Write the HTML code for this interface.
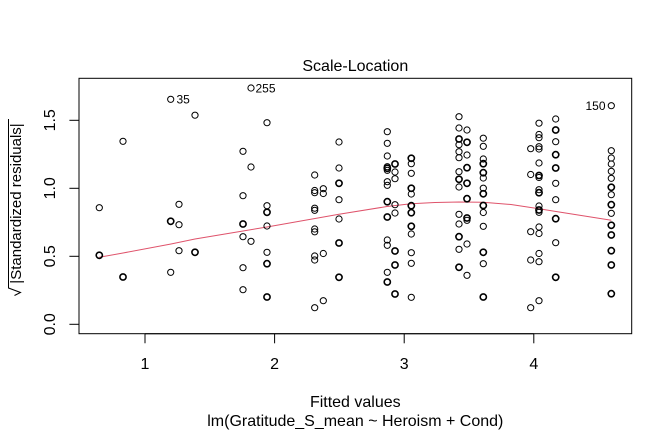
<!DOCTYPE html>
<html>
<head>
<meta charset="utf-8">
<style>
html,body{margin:0;padding:0;background:#fff;}
svg{display:block;}
text{font-family:"Liberation Sans",Arial,sans-serif;fill:#000;}
.p circle{fill:none;stroke:#000;stroke-width:1;}
.p circle.b{stroke-width:1.6;}
</style>
</head>
<body>
<svg width="672" height="432" viewBox="0 0 672 432" xmlns="http://www.w3.org/2000/svg">
<rect x="0" y="0" width="672" height="432" fill="#fff"/>
<rect x="79" y="78.3" width="552.7" height="255.4" fill="none" stroke="#000" stroke-width="1"/>
<g stroke="#000" stroke-width="1">
<line x1="145" y1="333.7" x2="145" y2="343.3"/>
<line x1="274.6" y1="333.7" x2="274.6" y2="343.3"/>
<line x1="404.2" y1="333.7" x2="404.2" y2="343.3"/>
<line x1="533.8" y1="333.7" x2="533.8" y2="343.3"/>
<line x1="145" y1="333.7" x2="533.8" y2="333.7"/>
<line x1="79" y1="324.3" x2="69.4" y2="324.3"/>
<line x1="79" y1="256.3" x2="69.4" y2="256.3"/>
<line x1="79" y1="188.3" x2="69.4" y2="188.3"/>
<line x1="79" y1="120.3" x2="69.4" y2="120.3"/>
<line x1="79" y1="120.3" x2="79" y2="324.3"/>
</g>
<g font-size="16" text-anchor="middle">
<text x="145" y="369">1</text>
<text x="274.6" y="369">2</text>
<text x="404.2" y="369">3</text>
<text x="533.8" y="369">4</text>
</g>
<g font-size="16" text-anchor="middle">
<text transform="translate(55,324.3) rotate(-90)">0.0</text>
<text transform="translate(55,256.3) rotate(-90)">0.5</text>
<text transform="translate(55,188.3) rotate(-90)">1.0</text>
<text transform="translate(55,120.3) rotate(-90)">1.5</text>
</g>
<text x="355.3" y="71" font-size="16" text-anchor="middle">Scale-Location</text>
<text x="355.3" y="407" font-size="16" text-anchor="middle">Fitted values</text>
<text x="355.3" y="426" font-size="16" text-anchor="middle">lm(Gratitude_S_mean ~ Heroism + Cond)</text>
<text transform="translate(21,203.5) rotate(-90)" font-size="15" text-anchor="middle">|Standardized residuals|</text>
<path d="M14.5,295.5 L20.5,292.5 L8.5,288 L8.5,119" fill="none" stroke="#000" stroke-width="1"/>
<polyline fill="none" stroke="#DF536B" stroke-width="1" points="99.3,257.3 123,253 171,244 195,239 243,231 267,227 315,218.5 339,214.3 387,206.5 411,203.7 435,202.5 459,202 483,202.3 511,204.5 539,208.7 556,211.5 611.3,220.3"/>
<g class="p">
<circle cx="99.3" cy="207.7" r="3.1"/>
<circle cx="99.3" cy="255.3" r="3.1" class="b"/>
<circle cx="123" cy="141.3" r="3.1"/>
<circle cx="123" cy="277" r="3.1" class="b"/>
<circle cx="170.7" cy="99.3" r="3.1"/>
<circle cx="170.7" cy="221.3" r="3.1" class="b"/>
<circle cx="170.7" cy="272.3" r="3.1"/>
<circle cx="179" cy="204.3" r="3.1"/>
<circle cx="179" cy="224.7" r="3.1"/>
<circle cx="179" cy="250.7" r="3.1"/>
<circle cx="195" cy="115.2" r="3.1"/>
<circle cx="195" cy="252.3" r="3.1" class="b"/>

<circle cx="243" cy="151.3" r="3.1"/>
<circle cx="243" cy="195.7" r="3.1"/>
<circle cx="243" cy="224" r="3.1" class="b"/>
<circle cx="243" cy="236.7" r="3.1"/>
<circle cx="243" cy="267.7" r="3.1"/>
<circle cx="243" cy="289.7" r="3.1"/>
<circle cx="251" cy="88" r="3.1"/>
<circle cx="251" cy="167" r="3.1"/>
<circle cx="251" cy="241.3" r="3.1"/>
<circle cx="267" cy="122.7" r="3.1"/>
<circle cx="267" cy="205.7" r="3.1"/>
<circle cx="267" cy="212.3" r="3.1" class="b"/>
<circle cx="267" cy="226" r="3.1"/>
<circle cx="267" cy="252.3" r="3.1"/>
<circle cx="267" cy="263.7" r="3.1" class="b"/>
<circle cx="267" cy="297" r="3.1" class="b"/>

<circle cx="314.7" cy="175" r="3.1"/>
<circle cx="314.7" cy="190.5" r="3.1"/>
<circle cx="314.7" cy="192.7" r="3.1"/>
<circle cx="314.7" cy="208.2" r="3.1"/>
<circle cx="314.7" cy="210.3" r="3.1"/>
<circle cx="314.7" cy="229" r="3.1"/>
<circle cx="314.7" cy="231.8" r="3.1"/>
<circle cx="314.7" cy="256" r="3.1"/>
<circle cx="314.7" cy="260" r="3.1"/>
<circle cx="314.7" cy="307.7" r="3.1"/>
<circle cx="323.3" cy="188.7" r="3.1"/>
<circle cx="323.3" cy="193.5" r="3.1"/>
<circle cx="323.3" cy="253.5" r="3.1"/>
<circle cx="323.3" cy="300.7" r="3.1"/>
<circle cx="339" cy="142" r="3.1"/>
<circle cx="339" cy="168" r="3.1"/>
<circle cx="339" cy="183.3" r="3.1" class="b"/>
<circle cx="339" cy="199.7" r="3.1"/>
<circle cx="339" cy="219" r="3.1"/>
<circle cx="339" cy="243" r="3.1" class="b"/>
<circle cx="339" cy="277.3" r="3.1" class="b"/>

<circle cx="387.3" cy="131.7" r="3.1"/>
<circle cx="387.3" cy="143.3" r="3.1"/>
<circle cx="387.3" cy="156" r="3.1"/>
<circle cx="387.3" cy="166.7" r="3.1"/>
<circle cx="387.3" cy="168.3" r="3.1" class="b"/>
<circle cx="387.3" cy="170.3" r="3.1"/>
<circle cx="387.3" cy="181.7" r="3.1"/>
<circle cx="387.3" cy="185.3" r="3.1"/>
<circle cx="387.3" cy="201.7" r="3.1" class="b"/>
<circle cx="387.3" cy="217" r="3.1" class="b"/>
<circle cx="387.3" cy="240" r="3.1"/>
<circle cx="387.3" cy="245.3" r="3.1"/>
<circle cx="387.3" cy="272.3" r="3.1"/>
<circle cx="387.3" cy="282" r="3.1" class="b"/>
<circle cx="395" cy="164" r="3.1" class="b"/>
<circle cx="395" cy="172" r="3.1"/>
<circle cx="395" cy="178.7" r="3.1"/>
<circle cx="395" cy="204.7" r="3.1"/>
<circle cx="395" cy="213" r="3.1"/>
<circle cx="395" cy="251" r="3.1" class="b"/>
<circle cx="395" cy="265" r="3.1" class="b"/>
<circle cx="395" cy="294" r="3.1" class="b"/>
<circle cx="411.3" cy="158.3" r="3.1" class="b"/>
<circle cx="411.3" cy="163.7" r="3.1"/>
<circle cx="411.3" cy="173.3" r="3.1"/>
<circle cx="411.3" cy="188.3" r="3.1" class="b"/>
<circle cx="411.3" cy="194" r="3.1"/>
<circle cx="411.3" cy="205.7" r="3.1" class="b"/>
<circle cx="411.3" cy="212.7" r="3.1" class="b"/>
<circle cx="411.3" cy="226.3" r="3.1" class="b"/>
<circle cx="411.3" cy="234" r="3.1"/>
<circle cx="411.3" cy="252.7" r="3.1"/>
<circle cx="411.3" cy="263.3" r="3.1"/>
<circle cx="411.3" cy="297.3" r="3.1"/>

<circle cx="459" cy="116.7" r="3.1"/>
<circle cx="459" cy="128" r="3.1"/>
<circle cx="459" cy="139" r="3.1" class="b"/>
<circle cx="459" cy="144.7" r="3.1"/>
<circle cx="459" cy="151.7" r="3.1"/>
<circle cx="459" cy="157.7" r="3.1"/>
<circle cx="459" cy="171.7" r="3.1"/>
<circle cx="459" cy="179.3" r="3.1" class="b"/>
<circle cx="459" cy="187" r="3.1"/>
<circle cx="459" cy="214.3" r="3.1"/>
<circle cx="459" cy="224" r="3.1"/>
<circle cx="459" cy="236.7" r="3.1" class="b"/>
<circle cx="459" cy="249.3" r="3.1"/>
<circle cx="459" cy="267.3" r="3.1" class="b"/>
<circle cx="467" cy="130" r="3.1"/>
<circle cx="467" cy="142.3" r="3.1" class="b"/>
<circle cx="467" cy="155" r="3.1"/>
<circle cx="467" cy="167.7" r="3.1" class="b"/>
<circle cx="467" cy="183.3" r="3.1" class="b"/>
<circle cx="467" cy="198.7" r="3.1" class="b"/>
<circle cx="467" cy="218" r="3.1" class="b"/>
<circle cx="467" cy="220.3" r="3.1"/>
<circle cx="467" cy="244" r="3.1"/>
<circle cx="467" cy="275.3" r="3.1"/>
<circle cx="483.3" cy="138.2" r="3.1"/>
<circle cx="483.3" cy="146.3" r="3.1"/>
<circle cx="483.3" cy="159" r="3.1"/>
<circle cx="483.3" cy="163.7" r="3.1" class="b"/>
<circle cx="483.3" cy="172.7" r="3.1" class="b"/>
<circle cx="483.3" cy="178" r="3.1"/>
<circle cx="483.3" cy="188.2" r="3.1"/>
<circle cx="483.3" cy="193.8" r="3.1" class="b"/>
<circle cx="483.3" cy="205.5" r="3.1" class="b"/>
<circle cx="483.3" cy="212.5" r="3.1"/>
<circle cx="483.3" cy="226.3" r="3.1"/>
<circle cx="483.3" cy="252.3" r="3.1" class="b"/>
<circle cx="483.3" cy="263.7" r="3.1"/>
<circle cx="483.3" cy="297" r="3.1" class="b"/>

<circle cx="530.7" cy="148.7" r="3.1"/>
<circle cx="530.7" cy="174.5" r="3.1"/>
<circle cx="530.7" cy="231.7" r="3.1"/>
<circle cx="530.7" cy="260" r="3.1"/>
<circle cx="530.7" cy="307.7" r="3.1"/>
<circle cx="539" cy="123.2" r="3.1"/>
<circle cx="539" cy="134.5" r="3.1"/>
<circle cx="539" cy="137.7" r="3.1"/>
<circle cx="539" cy="146.7" r="3.1"/>
<circle cx="539" cy="149" r="3.1"/>
<circle cx="539" cy="163" r="3.1"/>
<circle cx="539" cy="175.5" r="3.1" class="b"/>
<circle cx="539" cy="177.5" r="3.1"/>
<circle cx="539" cy="189.7" r="3.1"/>
<circle cx="539" cy="192.7" r="3.1" class="b"/>
<circle cx="539" cy="206" r="3.1"/>
<circle cx="539" cy="210" r="3.1" class="b"/>
<circle cx="539" cy="212.3" r="3.1"/>
<circle cx="539" cy="227" r="3.1"/>
<circle cx="539" cy="233.5" r="3.1"/>
<circle cx="539" cy="253.5" r="3.1"/>
<circle cx="539" cy="261.7" r="3.1"/>
<circle cx="539" cy="300.7" r="3.1"/>
<circle cx="555.7" cy="119" r="3.1"/>
<circle cx="555.7" cy="130" r="3.1" class="b"/>
<circle cx="555.7" cy="141.7" r="3.1"/>
<circle cx="555.7" cy="154.7" r="3.1" class="b"/>
<circle cx="555.7" cy="168" r="3.1" class="b"/>
<circle cx="555.7" cy="183.3" r="3.1"/>
<circle cx="555.7" cy="199.7" r="3.1"/>
<circle cx="555.7" cy="218.7" r="3.1" class="b"/>
<circle cx="555.7" cy="242.7" r="3.1"/>
<circle cx="555.7" cy="277.3" r="3.1" class="b"/>

<circle cx="611.3" cy="105.7" r="3.1"/>
<circle cx="611.3" cy="150.7" r="3.1"/>
<circle cx="611.3" cy="158" r="3.1"/>
<circle cx="611.3" cy="164" r="3.1"/>
<circle cx="611.3" cy="171.3" r="3.1"/>
<circle cx="611.3" cy="178.3" r="3.1"/>
<circle cx="611.3" cy="187.3" r="3.1" class="b"/>
<circle cx="611.3" cy="194.7" r="3.1"/>
<circle cx="611.3" cy="204.7" r="3.1" class="b"/>
<circle cx="611.3" cy="213.3" r="3.1"/>
<circle cx="611.3" cy="225.3" r="3.1" class="b"/>
<circle cx="611.3" cy="235" r="3.1" class="b"/>
<circle cx="611.3" cy="250.7" r="3.1" class="b"/>
<circle cx="611.3" cy="265" r="3.1" class="b"/>
<circle cx="611.3" cy="293.7" r="3.1" class="b"/>
</g>
<g font-size="12">
<text x="176.5" y="103.6">35</text>
<text x="255.5" y="92.3">255</text>
<text x="605.5" y="110" text-anchor="end">150</text>
</g>
</svg>
</body>
</html>
